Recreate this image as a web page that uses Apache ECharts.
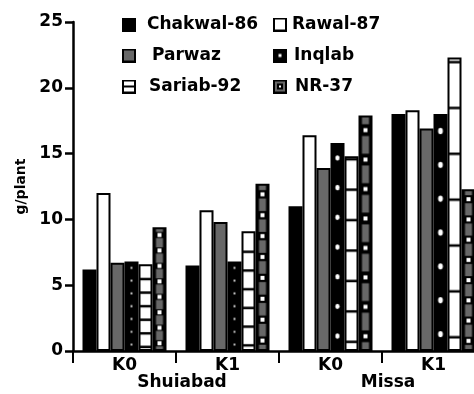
<!DOCTYPE html>
<html><head><meta charset="utf-8">
<script src="https://cdn.jsdelivr.net/npm/echarts@6/dist/echarts.min.js"></script>
<style>html,body{margin:0;padding:0;background:#fff}#c{width:474px;height:394px}</style>
</head><body><div id="c"></div>
<script>
// ---- data ----
const categories = ['K0', 'K1', 'K0', 'K1'];
const groups = ['Shuiabad', 'Missa'];
const seriesNames = ['Chakwal-86', 'Rawal-87', 'Parwaz', 'Inqlab', 'Sariab-92', 'NR-37'];
const chakwal86 = [6.2, 6.5, 11.0, 18.0];
const rawal87 = [12.0, 10.7, 16.4, 18.3];
const parwaz = [6.7, 9.8, 13.9, 16.9];
const inqlab = [6.8, 6.8, 15.8, 18.0];
const sariab92 = [6.6, 9.1, 14.8, 22.3];
const nr37 = [9.4, 12.7, 17.9, 12.3];
const yMin = 0, yMax = 25, yStep = 5;

const seriesValues = [chakwal86, rawal87, parwaz, inqlab, sariab92, nr37];
const FONT = 'DejaVu Sans';
const GRAY = '#686868';
const baseColors = ['#000', '#fff', GRAY, '#000', '#fff', GRAY];

// ---- pattern painters (style only) ----
function drawInqlab(ctx, w, h) {
  ctx.fillStyle = '#000'; ctx.fillRect(0, 0, w, h);
  const n = 7, s = h / n, r = Math.max(0.8, s * 0.07);
  ctx.fillStyle = '#fff';
  for (let i = 0; i < n; i++) {
    ctx.beginPath(); ctx.ellipse(w / 2, (i + 0.5) * s, r, r * 1.3, 0, 0, Math.PI * 2); ctx.fill();
  }
}
function drawSariab(ctx, w, h) {
  ctx.fillStyle = '#fff'; ctx.fillRect(0, 0, w, h);
  const s = h / 6.4;
  ctx.fillStyle = '#000';
  for (let k = 0; ; k++) {
    const yb = h - (0.3 + k) * s;
    if (yb < 2.5) break;
    ctx.fillRect(0, yb - 1.25, w, 2.5);
  }
}
function drawNR(ctx, w, h) {
  ctx.fillStyle = '#000'; ctx.fillRect(0, 0, w, h);
  const n = 8, s = h / n, half = Math.max(3, s * 0.2), inset = 3.5;
  ctx.fillStyle = GRAY;
  for (let i = -1; i < n; i++) {
    const a = Math.max(1, (i + 0.5) * s + half), b = Math.min(h - 1, (i + 1.5) * s - half);
    if (b > a) ctx.fillRect(inset, a, w - 2 * inset, b - a);
  }
  ctx.fillStyle = '#fff';
  for (let i = 0; i < n; i++) ctx.fillRect(w / 2 - 2, (i + 0.5) * s - 2, 4, 4);
}
const painters = [null, null, null, drawInqlab, drawSariab, drawNR];

// ---- legend icons ----
function legendIcon(idx) {
  const c = document.createElement('canvas'); c.width = 14; c.height = 14;
  const g = c.getContext('2d');
  g.fillStyle = '#000'; g.fillRect(0, 0, 14, 14);
  g.fillStyle = baseColors[idx]; g.fillRect(2, 2, 10, 10);
  if (idx === 3) { g.fillStyle = '#fff'; g.fillRect(5.5, 5.5, 3, 3); }
  if (idx === 4) { g.fillStyle = '#000'; g.fillRect(2, 6, 10, 2); }
  if (idx === 5) { g.fillStyle = '#000'; g.fillRect(4, 4, 6, 6); g.fillStyle = '#fff'; g.fillRect(6, 6, 2, 2); }
  return 'image://' + c.toDataURL();
}
const textPad = [6, 0, 11, 2, 8, 3];
function legendItem(idx) {
  return { name: seriesNames[idx], icon: legendIcon(idx), textStyle: { padding: [0, 0, 0, textPad[idx]] } };
}
const legendCommon = {
  orient: 'vertical', itemWidth: 14, itemHeight: 14, itemGap: 14, padding: 0,
  selectedMode: false,
  textStyle: { fontFamily: FONT, fontWeight: 'bold', fontSize: 17, color: '#000', lineHeight: 14 }
};

const option = {
  animation: false,
  backgroundColor: '#fff',
  grid: { left: 73, top: 22, width: 412, height: 329, containLabel: false, outerBoundsMode: 'none' },
  legend: [
    Object.assign({ left: 122, top: 16, data: [0, 2, 4].map(legendItem) }, legendCommon),
    Object.assign({ left: 273, top: 16, data: [1, 3, 5].map(legendItem) }, legendCommon)
  ],
  xAxis: [{
    type: 'category', data: categories, position: 'bottom',
    axisLine: { show: true, lineStyle: { color: '#000', width: 2.5 } },
    axisTick: { show: true, length: 12, lineStyle: { color: '#000', width: 2 } },
    axisLabel: { margin: 6, fontFamily: FONT, fontWeight: 'bold', fontSize: 17, color: '#000' },
    splitLine: { show: false }
  }, {
    type: 'category', data: groups, position: 'bottom', gridIndex: 0,
    axisLine: { show: false }, axisTick: { show: false },
    axisLabel: { margin: 23, padding: [0, 0, 0, 12], fontFamily: FONT, fontWeight: 'bold', fontSize: 17, color: '#000' },
    splitLine: { show: false }
  }],
  yAxis: {
    type: 'value', min: yMin, max: yMax, interval: yStep,
    name: 'g/plant', nameLocation: 'middle', nameRotate: 90, nameGap: 40,
    nameTextStyle: { fontFamily: FONT, fontWeight: 'bold', fontSize: 14, color: '#000' },
    axisLine: { show: true, lineStyle: { color: '#000', width: 2.5 } },
    axisTick: { show: true, inside: false, length: 8, lineStyle: { color: '#000', width: 2.5 } },
    axisLabel: { margin: 10, fontFamily: FONT, fontWeight: 'bold', fontSize: 17, color: '#000' },
    splitLine: { show: false }
  },
  series: seriesNames.map((name, i) => ({
    name: name, type: 'bar', xAxisIndex: 0, data: seriesValues[i].slice(),
    barWidth: 14, barGap: '0%',
    itemStyle: { color: baseColors[i], borderColor: '#000', borderWidth: 2 },
    emphasis: { disabled: true }
  }))
};

const chart = echarts.init(document.getElementById('c'), null, { renderer: 'canvas' });
chart.setOption(option);

// second pass: fill patterned bars according to their library-computed layout
try {
  const model = chart.getModel();
  const upd = seriesValues.map((vals, si) => {
    const data = model.getSeriesByIndex(si).getData();
    return {
      data: vals.map((v, j) => {
        const L = data.getItemLayout(j);
        if (!painters[si] || !L) return v;
        const x = Math.min(L.x, L.x + L.width), y = Math.min(L.y, L.y + L.height);
        const w = Math.abs(L.width), h = Math.abs(L.height);
        const cv = document.createElement('canvas');
        cv.width = Math.max(1, Math.ceil(w)); cv.height = Math.max(1, Math.ceil(h));
        painters[si](cv.getContext('2d'), w, h);
        return { value: v, itemStyle: { color: { image: cv, repeat: 'no-repeat', x: x, y: y } } };
      })
    };
  });
  chart.setOption({ series: upd });
} catch (e) { console.error(e); }
</script>
</body></html>
